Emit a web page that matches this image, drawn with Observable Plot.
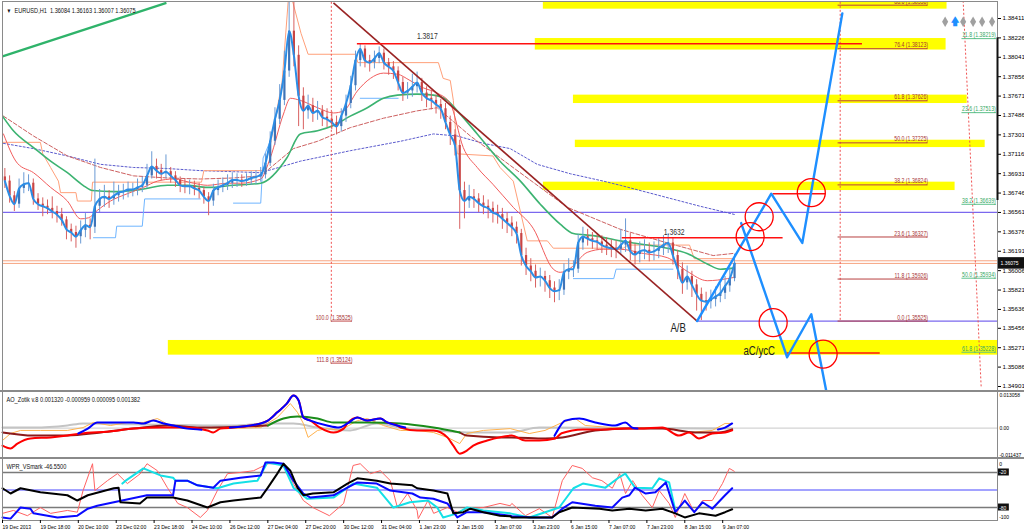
<!DOCTYPE html>
<html><head><meta charset="utf-8">
<script src="https://cdn.jsdelivr.net/npm/d3@7"></script>
<script src="https://cdn.jsdelivr.net/npm/@observablehq/plot@0.6"></script>
<style>
body{margin:0;background:#fff;}
#chart{position:relative;width:1024px;height:532px;overflow:hidden;background:#fff;}
#chart svg{position:absolute;left:0;overflow:visible;}
.sep{position:absolute;left:0;width:1024px;height:2px;background:#8a8a8a;}
</style></head><body><div id="chart"></div>
<script>
const FONT = "'Liberation Sans',Arial,sans-serif";

// ---------- 2-hour candles (x = hourly bar index 2j+1) ----------
const firstOpen = 1.3690;
const close = [
1.3686,1.3672,1.3664,1.3679,1.3683,1.3684,1.3669,1.3664,1.3662,1.3660,
1.3657,1.3654,1.3649,1.3640,1.3637,1.3633,1.3639,1.3644,1.3642,1.3662,
1.3669,1.3671,1.3669,1.3672,1.3675,1.3676,1.3678,1.3678,1.3680,1.3682,
1.3691,1.3700,1.3696,1.3693,1.3695,1.3691,1.3687,1.3682,1.3681,1.3681,
1.3679,1.3677,1.3671,1.3667,1.3677,1.3680,1.3682,1.3684,1.3687,1.3687,
1.3686,1.3687,1.3689,1.3690,1.3692,1.3703,1.3724,1.3745,1.3763,1.3791,
1.3829,1.3806,1.3767,1.3753,1.3758,1.3751,1.3753,1.3747,1.3745,1.3742,
1.3738,1.3748,1.3760,1.3777,1.3801,1.3812,1.3801,1.3799,1.3803,1.3808,
1.3799,1.3795,1.3791,1.3780,1.3770,1.3772,1.3776,1.3780,1.3770,1.3765,
1.3763,1.3759,1.3755,1.3742,1.3730,1.3720,1.3677,1.3667,1.3671,1.3669,
1.3665,1.3662,1.3660,1.3656,1.3654,1.3650,1.3646,1.3642,1.3636,1.3615,
1.3605,1.3600,1.3594,1.3595,1.3591,1.3584,1.3581,1.3582,1.3599,1.3602,
1.3602,1.3627,1.3633,1.3631,1.3629,1.3628,1.3625,1.3623,1.3622,1.3621,
1.3625,1.3629,1.3619,1.3616,1.3619,1.3620,1.3618,1.3619,1.3622,1.3625,
1.3627,1.3615,1.3602,1.3589,1.3595,1.3587,1.3578,1.3572,1.3571,1.3573,
1.3576,1.3579,1.3586,1.3593,1.36075];
const high = [
1.3698,1.3691,1.3676,1.3688,1.3694,1.3692,1.3688,1.3674,1.3670,1.3668,
1.3671,1.3662,1.3660,1.3652,1.3645,1.3643,1.3648,1.3655,1.3650,1.3707,
1.3678,1.3682,1.3677,1.3685,1.3682,1.3683,1.3685,1.3684,1.3688,1.3690,
1.3702,1.3714,1.3707,1.3702,1.3711,1.3699,1.3695,1.3690,1.3688,1.3687,
1.3686,1.3684,1.3680,1.3675,1.3683,1.3687,1.3689,1.3692,1.3694,1.3693,
1.3692,1.3693,1.3695,1.3696,1.3699,1.3712,1.3733,1.3756,1.3778,1.3810,
1.3893,1.3860,1.3815,1.3775,1.3768,1.3765,1.3762,1.3758,1.3755,1.3752,
1.3748,1.3755,1.3768,1.3786,1.3810,1.3817,1.3815,1.3806,1.3810,1.3814,
1.3812,1.3803,1.3800,1.3795,1.3785,1.3780,1.3788,1.3790,1.3784,1.3776,
1.3772,1.3768,1.3764,1.3760,1.3748,1.3735,1.3725,1.3685,1.3682,1.3678,
1.3674,1.3672,1.3668,1.3666,1.3663,1.3660,1.3656,1.3652,1.3647,1.3640,
1.3622,1.3612,1.3606,1.3603,1.3600,1.3596,1.3590,1.3592,1.3607,1.3612,
1.3610,1.3635,1.3642,1.3640,1.3637,1.3636,1.3634,1.3632,1.3630,1.3629,
1.3640,1.3650,1.3636,1.3626,1.3628,1.3630,1.3627,1.3628,1.3631,1.3634,
1.3636,1.3632,1.3620,1.3608,1.3605,1.3600,1.3592,1.3584,1.3580,1.3582,
1.3585,1.3588,1.3595,1.3603,1.36163];
const low = [
1.3679,1.3665,1.3657,1.3660,1.3674,1.3676,1.3663,1.3658,1.3652,1.3654,
1.3650,1.3646,1.3643,1.3630,1.3628,1.3622,1.3626,1.3632,1.3630,1.3636,
1.3656,1.3661,1.3660,1.3663,1.3666,1.3668,1.3670,1.3671,1.3672,1.3675,
1.3679,1.3688,1.3688,1.3686,1.3688,1.3684,1.3680,1.3675,1.3674,1.3673,
1.3672,1.3669,1.3664,1.3653,1.3662,1.3672,1.3675,1.3677,1.3679,1.3680,
1.3680,1.3681,1.3682,1.3683,1.3685,1.3688,1.3700,1.3720,1.3740,1.3758,
1.3785,1.3795,1.3738,1.3735,1.3745,1.3742,1.3744,1.3738,1.3737,1.3735,
1.3730,1.3733,1.3742,1.3755,1.3772,1.3795,1.3794,1.3790,1.3793,1.3798,
1.3792,1.3787,1.3783,1.3772,1.3762,1.3764,1.3766,1.3770,1.3762,1.3756,
1.3754,1.3750,1.3745,1.3735,1.3720,1.3710,1.3640,1.3650,1.3660,1.3660,
1.3656,1.3654,1.3650,1.3646,1.3645,1.3640,1.3636,1.3633,1.3626,1.3605,
1.3596,1.3590,1.3584,1.3585,1.3580,1.3574,1.3570,1.3572,1.3577,1.3592,
1.3594,1.3598,1.3620,1.3624,1.3621,1.3620,1.3617,1.3615,1.3613,1.3612,
1.3615,1.3618,1.3610,1.3606,1.3608,1.3611,1.3609,1.3610,1.3612,1.3615,
1.3617,1.3606,1.3592,1.3578,1.3582,1.3575,1.3562,1.3553,1.3562,1.3564,
1.3566,1.3570,1.3573,1.3580,1.3590];

// ---------- moving averages / bands: [bar index, price] ----------
const maRed = [[0.4,1.3731],[6.3,1.3703],[13.1,1.3694],[20.3,1.3680],[27.4,1.3667],[33,1.3650],[36.3,1.3651],[40,1.3658],[45.6,1.3667],[52.7,1.3674],[59.5,1.3680],[65.4,1.3686],[72.2,1.3688],[80.6,1.3684],[86.5,1.3682],[95,1.3684],[100.4,1.3684],[109,1.3688],[113,1.3708],[118.6,1.3750],[121.5,1.3765],[125.7,1.3763],[133,1.3756],[139.7,1.3751],[144,1.3753],[149.8,1.3772],[155.3,1.3784],[160.8,1.3789],[166.7,1.3788],[172,1.3782],[177.6,1.3775],[183.5,1.3770],[189,1.3760],[194.5,1.3718],[200.4,1.3699],[207,1.3683],[215.6,1.3661],[224,1.3641],[232.5,1.3602],[235.4,1.3599],[239.7,1.3603],[246.8,1.3618],[253.6,1.3621],[260.8,1.3621],[270.5,1.3617],[280.6,1.3613],[289,1.3600],[297.5,1.3591],[306,1.3593],[308.4,1.3594]];
const maGreen = [[0,1.3748],[4.6,1.3734],[13.1,1.3718],[20.3,1.3705],[27.4,1.3694],[34,1.3682],[38,1.3677],[47,1.3676],[58.2,1.3678],[69.6,1.3682],[78,1.3682],[86.5,1.3680],[97.5,1.3682],[109,1.3684],[120,1.3708],[125.7,1.3731],[133,1.3734],[139.7,1.3739],[146.8,1.3748],[154,1.3756],[160.8,1.3765],[166.7,1.3768],[175,1.3769],[181.9,1.3768],[187.8,1.3763],[192,1.3753],[200.4,1.3731],[210,1.3705],[218.6,1.3686],[227,1.3664],[235.4,1.3645],[241,1.3636],[249.4,1.3634],[260.8,1.3629],[266.2,1.3627],[280.6,1.3622],[289,1.3617],[297.5,1.3607],[303,1.3602],[308.4,1.3603]];
const maDashed = [[0.4,1.3748],[13.1,1.3729],[27.4,1.3710],[41.4,1.3699],[55.3,1.3691],[69.6,1.3689],[83.5,1.3688],[97.5,1.3689],[109,1.3691],[122.8,1.3717],[133,1.3724],[146.8,1.3737],[160.8,1.3746],[175,1.3753],[183.5,1.3756],[197.5,1.3729],[214.3,1.3701],[238.4,1.3661],[260.8,1.3640],[277.6,1.3629],[300,1.3615],[308.4,1.3617]];
const maDotted = [[0.4,1.3722],[13.1,1.3717],[27.4,1.3710],[41.4,1.3702],[55.3,1.3699],[69.6,1.3698],[83.5,1.3696],[97.5,1.3695],[109,1.3694],[125.7,1.3705],[146.8,1.3715],[168,1.3724],[181.9,1.3731],[192,1.3729],[203,1.3722],[214.3,1.3717],[225.7,1.3702],[239.7,1.3693],[253.6,1.3686],[260.8,1.3682],[294.5,1.3662],[309.3,1.3654]];
const salmonStep = [[0,1.3723],[16,1.3723],[17,1.3712],[20.3,1.3699],[23.6,1.3686],[24.5,1.3675],[31,1.3675],[31.6,1.3667],[37.5,1.3667],[38,1.3685],[84,1.3685],[85,1.3696],[110,1.3696],[113,1.3720],[118,1.3780],[121,1.3870],[126,1.3827],[129,1.3807],[149,1.3807],[150,1.3799],[184,1.3799],[186,1.3784],[189,1.3782],[190.3,1.3763],[192,1.3712],[207,1.3710],[210,1.3699],[215.6,1.3686],[221.5,1.3629],[230,1.3629],[232.5,1.3622],[262,1.3622],[264,1.3625],[290,1.3625],[292,1.3612],[309,1.3612]];
const lightBlueStep = [[38.4,1.3632,1],[47.7,1.3632,1],[48.2,1.3643,1],[59,1.3643,1],[60,1.3669,1],[83.5,1.3669,1],[97.5,1.3665,2],[109,1.3665,2],[110,1.3708,2],[113,1.3724,2],[117,1.3763,2],[119,1.3790,2],[151,1.3765,3],[167,1.3765,3],[241,1.3593,4],[258,1.3593,4],[259,1.3602,4],[283,1.3602,4]];

// ---------- drawings ----------
const yellowBands = [[228.3,398.7,1.3862,1.3850],[224.9,398.3,1.3822,1.3811],[241,407.2,1.3768,1.3760],[241.8,414.8,1.3725,1.3718],[228.3,402.1,1.3685,1.3677],[70,420,1.3534,1.3520]];
const purpleLines = [[0,420,1.36561],[293.2,420,1.35525]];
const priceLines = [1.36100,1.36075];
const greenTrend = [[0,1.3805,69.2,1.3856]];
const brownTrend = [[139.7,1.3856,293.2,1.35525]];
const dottedVerticals = [[138.8,1.3857,138.8,1.3557],[353.6,1.3857,353.6,1.35525],[405.5,1.3858,413.1,1.3490]];
const redFibLevels = ["88.6","76.4","61.8","50.0","38.2","23.6","11.8","0.0"];
const redFibPrices = [1.38538,1.38123,1.37626,1.37225,1.36824,1.36327,1.35926,1.35525];
const leftFibLevels = ["100.0","111.8"];
const leftFibPrices = [1.35525,1.35124];
const greenFibLevels = ["11.8","23.6","38.2","50.0","61.8"];
const greenFibPrices = [1.38219,1.37513,1.36639,1.35934,1.35228];
const redLines = [[149.8,363,1.3817],[261.6,329.5,1.3632],[325.3,347.7,1.3674],[331.2,370.5,1.3522]];
const redLineLabels = [[179.3,1.3824,"1.3817"],[283.5,1.3637,"1.3632"]];
const projUp = [[293.2,1.35525],[324.5,1.3674],[337.6,1.3627],[354.5,1.3846]];
const projDown = [[311.8,1.3646],[331.2,1.3518],[341.4,1.3559],[347.7,1.3486]];
const circles = [[319.4,1.3652],[315.6,1.3633],[341.4,1.3675],[325.3,1.3551],[346.4,1.3521]];
const waveLabels = [[285.2,1.3546,"A/B"],[319.4,1.3524,"aC/ycC"]];
const diamondX = [397.9,405.5,409.7,413.5,417.7];
const arrowX = [402.1];
const markerPrice = 1.3838;
const priceTicks = [1.38411,1.38226,1.38041,1.37856,1.37671,1.37486,1.37301,1.37116,1.36931,1.36746,1.36561,1.36376,1.36191,1.36006,1.35821,1.35636,1.35456,1.35271,1.35086,1.34901];
const axisBar = [1.38226,1.36675];
const lastPrice = 1.36075;
const header = "EURUSD,H1  1.36084 1.36163 1.36007 1.36075";

// ---------- AO panel: [bar index, value] ----------
const aoTitle = "AO_Zotik v.8 0.001320 -0.000959 0.000095 0.001382";
const aoTicks = [0.013058, 0, -0.011437];
const aoGray = [[0,0.0002],[13.1,0.0002],[27.4,0.0010],[34,0.0018],[55,0.0015],[97.5,0.0010],[112,0.0018],[122.8,0.0018],[133,0.0002],[146.8,-0.0009],[158,0.0018],[168,0.0002],[181.9,-0.0009],[196,-0.0017],[214.3,-0.0017],[226.6,0.0002],[299.6,-0.0002],[308,-0.0002]];
const aoOrange = [[0,-0.0048],[3.4,-0.0021],[7.6,-0.0009],[16,-0.0009],[27.4,-0.0009],[34,0.0002],[38.4,0.0022],[45.6,0.0010],[52.7,0.0022],[59.5,0.0022],[65.4,0.0037],[72.2,0.0002],[83.5,0.0002],[95,-0.0002],[109,0.0002],[116,0.0041],[121.5,0.0095],[124.5,0.0061],[127,0.0018],[129,-0.0036],[133,-0.0009],[137,-0.0002],[142.6,-0.0009],[149.8,0.0029],[154,0.0037],[160.8,0.0010],[168,-0.0009],[175,-0.0009],[181.9,-0.0017],[187.8,-0.0036],[193,-0.0060],[196,-0.0021],[203,-0.0009],[214.3,-0.0002],[222.4,-0.0021],[229,-0.0009],[236.3,0.0022],[241.8,0.0037],[246,0.0010],[257.4,0.0002],[264.6,-0.0002],[274.3,0.0002],[281.4,-0.0002],[289.9,-0.0017],[299.6,-0.0009],[305,0.0018],[308,0.0018]];
const aoSignalBrownA = [[0,-0.0017],[13.1,-0.0029],[27.4,-0.0029],[41.4,-0.0017],[55.3,-0.0002],[69.6,0.0010],[83.5,0.0002],[112,0.0010]];
const aoSignalGreen = [[112,0.0010],[118.6,0.0037],[124.5,0.0045],[133,0.0037],[139.7,0.0022],[154,0.0022],[168,0.0018],[181.9,0.0002],[193,-0.0017]];
const aoSignalBrownB = [[193,-0.0017],[196,-0.0029],[210,-0.0036],[215,-0.0036],[229,-0.0040],[236.3,-0.0036],[250.2,-0.0009],[264.6,-0.0002],[278.5,-0.0002],[292.4,-0.0017],[302.5,-0.0017],[308,-0.0005]];
const aoRed = [[0,-0.0068],[3.4,-0.0079],[6.3,-0.0060],[11.8,-0.0040],[20.3,-0.0036],[27.4,-0.0029],[33,-0.0021],[45,-0.0013],[55.3,-0.0002],[66.7,0.0002],[78,0.0002],[86.5,-0.0009],[89,-0.0017],[92,-0.0002],[97.5,0.0002],[109,0.0018],[112,0.0029],[116,0.0061],[120,0.0095],[122.8,0.0126],[125,0.0107],[127,0.0041],[130,0.0029],[134,0.0002],[139.7,-0.0017],[144,-0.0002],[145.6,0.0018],[149.8,0.0041],[154,0.0029],[159.5,0.0037],[162.4,0.0022],[166.7,0.0010],[168,0.0002],[175,-0.0009],[181.9,-0.0009],[187.8,-0.0036],[190.3,-0.0068],[193,-0.0099],[196,-0.0087],[198.7,-0.0068],[204.6,-0.0048],[215,-0.0029],[220.7,-0.0048],[226.6,-0.0048],[233.3,-0.0040],[236,-0.0020],[245,-0.0005],[255,-0.0005],[262,-0.0002],[268.8,-0.0002],[278.5,0.0002],[285.6,-0.0029],[289.9,-0.0017],[294,-0.0040],[299.6,-0.0021],[305,-0.0017],[308,-0.0009]];
const aoBlue = [[32,-0.0021,1],[36,-0.0002,1],[40,0.0022,1],[45.6,0.0022,1],[55.3,0.0022,1],[59.5,0.0018,1],[63.7,0.0029,1],[68,0.0018,1],[72.2,0.0010,1],[78,-0.0002,1],[84,-0.0006,1],
[96,0.0002,2],[109,0.0018,2],[112,0.0029,2],[116,0.0061,2],[120,0.0095,2],[122.8,0.0126,2],[125,0.0107,2],[127,0.0041,2],[130,0.0029,2],[137,0.0010,2],[142,0.0002,2],[145.6,0.0018,2],[149.8,0.0041,2],[154,0.0029,2],[159.5,0.0037,2],[162.4,0.0022,2],[166.7,0.0010,2],[170,0.0002,2],
[233,-0.0030,3],[235,0.0002,3],[237.5,0.0029,3],[243.5,0.0037,3],[250.2,0.0022,3],[258.6,0.0010,3],[262.9,0.0022,3],[265.8,0.0002,3],[268,-0.0002,3],
[302,-0.0005,4],[305,0.0002,4],[308,0.0018,4]];

// ---------- WPR panel: [bar index, value] ----------
const wprTitle = "WPR_VSmark -46.5500";
const wprLevels = [-20, -80];
const wprMid = [-50];
const wprRed = [[0,-90],[4.6,-85],[10.5,-94],[16,-80],[20.3,-90],[27.4,-85],[31.6,-88],[34,-51],[38,-5],[39,-51],[44.3,-34],[48.5,-22],[52.7,-39],[58.2,-22],[61,-5],[65.4,-17],[69.6,-46],[74,-73],[78,-80],[83.5,-97],[86.5,-85],[90.7,-51],[95,-22],[100.4,-20],[106,-17],[112,-5],[118.6,-5],[122.8,-39],[127,-68],[131,-80],[138,-94],[144,-73],[148,-8],[151,-5],[155.3,-22],[159.5,-17],[163.7,-34],[166.7,-80],[171,-56],[175,-85],[175.5,-99],[179.6,-68],[182,-90],[187.8,-80],[192,-88],[196,-82],[203,-80],[210,-73],[214.3,-77],[215,-73],[220.7,-94],[226.6,-82],[232,-97],[236.3,-34],[240.5,-8],[244.7,-13],[249,-29],[253,-34],[257.4,-47],[260.5,-22],[263,-56],[266,-34],[270,-59],[274.3,-80],[277.2,-51],[281.4,-73],[284,-97],[288,-56],[292,-88],[295.5,-68],[299.6,-68],[303.9,-39],[306.8,-13],[308.9,-18]];
const wprCyan = [[50.6,-39],[52,-34],[59.5,-13],[66.7,-25],[72,-29],[73,-34],[78,-34],[82.3,-42],[89,-46],[90.7,-47],[97.5,-39],[107.6,-34],[111.8,-3],[118.6,-8],[122.8,-46],[128.6,-65],[139.7,-63],[148,-39],[158,-46],[165,-80],[172,-71],[179.6,-68],[183.5,-80],[186,-97],[192,-90],[196,-80],[203,-85],[214.3,-90],[222.4,-97],[235,-80],[241,-47],[245,-39],[254.5,-46],[260,-29],[262.9,-22],[267,-46],[274.3,-47],[277.2,-30],[281.4,-37],[284,-85]];
const wprBlue = [[0,-97],[3.4,-99],[7.6,-80],[11.8,-82],[13.1,-90],[23.2,-97],[31.6,-94],[36,-82],[40,-77],[47,-71],[61,-59],[72,-59],[73,-34],[78,-34],[82.3,-42],[89,-46],[92,-34],[100.4,-29],[109,-25],[111,-3],[114.4,-3],[118.6,-5],[122.8,-34],[127,-56],[130,-63],[139.7,-59],[145.6,-46],[149.8,-37],[158,-39],[163.7,-51],[173,-56],[176.4,-63],[181.9,-65],[187.8,-73],[192,-97],[196,-88],[203,-88],[214.3,-94],[215,-95],[223.5,-97],[232,-97],[236.3,-82],[240.5,-71],[250.2,-77],[257.4,-80],[261.6,-63],[264.6,-59],[267,-46],[271.5,-56],[275.6,-54],[280,-37],[284,-88],[288,-68],[292,-88],[295.5,-71],[299.6,-82],[305,-59],[308,-47]];
const wprBlack = [[0,-47],[3.4,-56],[7.6,-47],[16,-54],[27.4,-59],[31.6,-68],[36,-59],[47,-47],[49,-46],[49.8,-71],[58,-73],[61,-63],[72,-63],[78,-68],[86.5,-80],[92,-71],[97.5,-68],[109,-63],[112,-46],[116,-22],[118.6,-5],[121.5,-17],[124.5,-46],[127,-59],[131,-56],[139.7,-54],[145.6,-39],[149.8,-30],[158,-34],[163.7,-39],[173,-42],[175,-47],[181.9,-51],[187.8,-56],[190.3,-90],[194.5,-88],[197.5,-82],[203,-88],[210,-94],[214.3,-95],[215,-97],[223.5,-97],[232,-97],[235,-88],[240.5,-80],[252,-82],[257.4,-85],[264.6,-82],[271.5,-85],[278.5,-82],[284,-90],[288,-97],[294,-90],[301,-94],[305,-88],[308,-83]];

// ---------- time axis ----------
const timeLabels = ["19 Dec 2013","19 Dec 18:00","20 Dec 10:00","23 Dec 02:00","23 Dec 18:00","24 Dec 10:00","26 Dec 12:00","27 Dec 04:00","27 Dec 20:00","30 Dec 12:00","31 Dec 04:00","1 Jan 23:00","2 Jan 15:00","3 Jan 07:00","3 Jan 23:00","6 Jan 15:00","7 Jan 07:00","7 Jan 23:00","8 Jan 15:00","9 Jan 07:00"];
const barsPerLabel = 16;

// ---------- build ----------
const candles = close.map((c, j) => ({i: 2 * j + 1, o: j ? close[j - 1] : firstOpen, c, h: high[j], l: low[j]}));
const X = {domain: [0, 420], range: [2, 997], axis: null};
const px = d => d[0], py = d => d[1];
const style = {fontFamily: FONT, fontSize: "7px", background: "transparent", overflow: "visible"};

const main = Plot.plot({
  width: 1024, height: 391, marginLeft: 2, marginRight: 27, marginTop: 1, marginBottom: 0,
  x: X, y: {domain: [1.34901, 1.38411], range: [386, 18], axis: null}, style,
  marks: [
    Plot.rect(yellowBands, {x1: d => d[0], x2: d => d[1], y1: d => d[2], y2: d => d[3], fill: "#ffff00", clip: true}),
    Plot.ruleY(purpleLines, {x1: d => d[0], x2: d => d[1], y: d => d[2], stroke: "#7b68ee", strokeWidth: 1.2}),
    Plot.ruleY(priceLines, {stroke: "#f7a480", strokeWidth: 1}),
    Plot.line(maDotted, {x: px, y: py, stroke: "#5a5acd", strokeWidth: 1, strokeDasharray: "2,2", clip: true}),
    Plot.line(maDashed, {x: px, y: py, stroke: "#cd6060", strokeWidth: 1, strokeDasharray: "4,2", clip: true}),
    Plot.line(salmonStep, {x: px, y: py, stroke: "#ffa07a", strokeWidth: 1, clip: true}),
    Plot.line(lightBlueStep, {x: px, y: py, z: d => d[2], stroke: "#6fb5ff", strokeWidth: 1, clip: true}),
    Plot.line(maGreen, {x: px, y: py, stroke: "#3cb371", strokeWidth: 1.6, curve: "monotone-x", clip: true}),
    Plot.line(maRed, {x: px, y: py, stroke: "#f25c5c", strokeWidth: 1, curve: "monotone-x", clip: true}),
    Plot.ruleX(candles, {x: "i", y1: "l", y2: "h", stroke: d => d.c >= d.o ? "#6a9ad4" : "#d86060", strokeWidth: 1, clip: true}),
    Plot.ruleX(candles, {x: "i", y1: "o", y2: "c", stroke: d => d.c >= d.o ? "#3f74b8" : "#c94545", strokeWidth: 2.2, clip: true}),
    Plot.line(candles, {x: "i", y: "c", stroke: "#2b8de6", strokeWidth: 2, curve: "monotone-x", clip: true}),
    Plot.link(greenTrend, {x1: d => d[0], y1: d => d[1], x2: d => d[2], y2: d => d[3], stroke: "#2fb36a", strokeWidth: 2.2, clip: true}),
    Plot.link(brownTrend, {x1: d => d[0], y1: d => d[1], x2: d => d[2], y2: d => d[3], stroke: "#9a2424", strokeWidth: 1.6, clip: true}),
    Plot.link(dottedVerticals, {x1: d => d[0], y1: d => d[1], x2: d => d[2], y2: d => d[3], stroke: "#f05050", strokeWidth: 1, strokeDasharray: "2,2", clip: true}),
    Plot.ruleY(redFibPrices, {x1: 352.7, x2: 390.7, stroke: "#b84040", strokeWidth: 1}),
    Plot.text(redFibPrices, {x: 390.7, y: d => d, text: (d, k) => `${redFibLevels[k]} (${d.toFixed(5)})`, textAnchor: "end", dy: -3.5, fill: "#a83434", fontSize: 6.5, clip: true}),
    Plot.ruleY(leftFibPrices, {x1: 138.8, x2: 147.7, stroke: "#c04848", strokeWidth: 1}),
    Plot.text(leftFibPrices, {x: 147.7, y: d => d, text: (d, k) => `${leftFibLevels[k]} (${d.toFixed(5)})`, textAnchor: "end", dy: -3.5, fill: "#a83434", fontSize: 6.5}),
    Plot.ruleY(greenFibPrices, {x1: 405, x2: 419.6, stroke: "#5cc08a", strokeWidth: 1}),
    Plot.text(greenFibPrices, {x: 419.3, y: d => d, text: (d, k) => `${greenFibLevels[k]} (${d.toFixed(5)})`, textAnchor: "end", dy: -3.5, fill: "#35a866", fontSize: 6.5}),
    Plot.ruleY(redLines, {x1: d => d[0], x2: d => d[1], y: d => d[2], stroke: "#ff1010", strokeWidth: 1.6}),
    Plot.text(redLineLabels, {x: d => d[0], y: d => d[1], text: d => d[2], fill: "#333", fontSize: 8.5, ariaLabel: "big"}),
    Plot.line(projUp, {x: px, y: py, stroke: "#1e8fff", strokeWidth: 2.4, clip: true}),
    Plot.line(projDown, {x: px, y: py, stroke: "#1e8fff", strokeWidth: 2.4, clip: true}),
    Plot.dot(circles, {x: px, y: py, r: 14, stroke: "#ff0000", strokeWidth: 1.3, fill: "none"}),
    Plot.text(waveLabels, {x: d => d[0], y: d => d[1], text: d => d[2], fill: "#222", fontSize: 12, ariaLabel: "big"}),
    Plot.dot(diamondX, {x: d => d, y: markerPrice, symbol: "diamond", r: 3.2, fill: "#a0a0a0"}),
    Plot.text(arrowX, {x: d => d, y: markerPrice, text: () => "🡅", fill: "#1e8fff", fontSize: 10, fontWeight: "bold", fontFamily: "'DejaVu Sans',sans-serif", ariaLabel: "big"}),
    Plot.text([header], {frameAnchor: "top-left", dx: 12, dy: 7, text: d => d, fill: "#111", fontSize: 7, ariaLabel: "hdr"}),
    Plot.text(["▼"], {frameAnchor: "top-left", dx: 4, dy: 7, text: d => d, fill: "#111", fontSize: 6, ariaLabel: "big"}),
    Plot.frame({stroke: "#8a8a8a"}),
    Plot.axisY({anchor: "right", ticks: priceTicks, tickSize: 3, tickPadding: 2, tickFormat: d => d.toFixed(5), fontSize: 6.2, ariaLabel: "axis-right"}),
    Plot.ruleX([420], {y1: axisBar[0], y2: axisBar[1], stroke: "#111", strokeWidth: 2}),
    Plot.rect([lastPrice], {x1: 420.4, x2: 431.5, y1: d => d - 0.00055, y2: d => d + 0.00055, fill: "#111"}),
    Plot.text([lastPrice], {x: 421.3, y: d => d, text: d => d.toFixed(5), textAnchor: "start", fill: "#fff", fontSize: 6.2, ariaLabel: "axis-right"})
  ]
});

const ao = Plot.plot({
  width: 1024, height: 67, marginLeft: 2, marginRight: 27, marginTop: 0, marginBottom: 0,
  x: X, y: {domain: [-0.01, 0.01], range: [62.4, 10.8], axis: null}, style,
  marks: [
    Plot.ruleY([0], {stroke: "#c8c8c8"}),
    Plot.line(aoGray, {x: px, y: py, stroke: "#c4c4c4", strokeWidth: 2, curve: "monotone-x"}),
    Plot.line(aoOrange, {x: px, y: py, stroke: "#ffb24d", strokeWidth: 1}),
    Plot.line(aoSignalBrownA, {x: px, y: py, stroke: "#8b1a1a", strokeWidth: 2, curve: "monotone-x"}),
    Plot.line(aoSignalBrownB, {x: px, y: py, stroke: "#8b1a1a", strokeWidth: 2, curve: "monotone-x"}),
    Plot.line(aoSignalGreen, {x: px, y: py, stroke: "#1a8c1a", strokeWidth: 2, curve: "monotone-x"}),
    Plot.line(aoRed, {x: px, y: py, stroke: "#ff0000", strokeWidth: 2, curve: "monotone-x"}),
    Plot.line(aoBlue, {x: px, y: py, z: d => d[2], stroke: "#0000ff", strokeWidth: 2, curve: "monotone-x"}),
    Plot.text([aoTitle], {frameAnchor: "top-left", dx: 4, dy: 6, text: d => d, fill: "#111", fontSize: 7}),
    Plot.text([aoTicks[0]], {x: 420.8, y: d => d, text: d => d.toFixed(6), textAnchor: "start", dy: 1, fontSize: 6.2, ariaLabel: "axis-right"}),
    Plot.text([aoTicks[1]], {x: 420.8, y: d => d, text: d => d.toFixed(2), textAnchor: "start", fontSize: 6.2, ariaLabel: "axis-right"}),
    Plot.text([aoTicks[2]], {x: 420.8, y: d => d, text: d => d.toFixed(6), textAnchor: "start", dy: -2.5, fontSize: 6.2, ariaLabel: "axis-right"}),
    Plot.frame({stroke: "#8a8a8a"})
  ]
});

const wpr = Plot.plot({
  width: 1024, height: 74, marginLeft: 2, marginRight: 27, marginTop: 0, marginBottom: 12,
  x: {...X, axis: null}, y: {domain: [-100, 0], range: [60.7, 2.3], axis: null}, style,
  marks: [
    Plot.ruleY(wprLevels, {stroke: "#7a7a7a", strokeWidth: 1.3}),
    Plot.ruleY(wprMid, {stroke: "#4646ff", strokeWidth: 1}),
    Plot.line(wprRed, {x: px, y: py, stroke: "#ff6262", strokeWidth: 1}),
    Plot.line(wprCyan, {x: px, y: py, stroke: "#14e0e6", strokeWidth: 2}),
    Plot.line(wprBlue, {x: px, y: py, stroke: "#0a0aff", strokeWidth: 2}),
    Plot.line(wprBlack, {x: px, y: py, stroke: "#000", strokeWidth: 2}),
    Plot.text([wprTitle], {frameAnchor: "top-left", dx: 4, dy: 6, text: d => d, fill: "#111", fontSize: 7}),
    Plot.rect(wprLevels, {x1: 420.4, x2: 425, y1: d => d - 6, y2: d => d + 6, fill: "#111"}),
    Plot.text(wprLevels, {x: 420.7, y: d => d, text: d => String(d), textAnchor: "start", fill: "#fff", fontSize: 6.2, ariaLabel: "axis-right"}),
    Plot.text([0], {x: 420.7, y: d => d, text: d => String(d), textAnchor: "start", dy: 3, fontSize: 6.2, ariaLabel: "axis-right"}),
    Plot.text([-100], {x: 420.7, y: d => d, text: d => String(d), textAnchor: "start", dy: -2.5, fontSize: 6.2, ariaLabel: "axis-right"}),
    Plot.frame({stroke: "#8a8a8a"}),
    Plot.axisX({ticks: timeLabels.map((_, k) => k * barsPerLabel), tickFormat: d => timeLabels[d / barsPerLabel], tickSize: 3, tickPadding: 1, textAnchor: "start", anchor: "bottom", fontSize: 6, label: null, ariaLabel: "time"})
  ]
});

const root = document.getElementById("chart");
main.style.top = "0px"; ao.style.top = "391px"; wpr.style.top = "458px";
root.append(main, ao, wpr);
for (const t of [390, 457]) { const s = document.createElement("div"); s.className = "sep"; s.style.top = t + "px"; root.append(s); }

// condense the small MT4-style labels (the terminal font is narrower than the installed sans)
for (const t of root.querySelectorAll("text")) {
  if (t.closest('[aria-label="big"]') || t.closest('[aria-label^="axis-right"]')) continue;
  const L = t.getComputedTextLength();
  if (!(L > 0)) continue;
  const k = t.closest('[aria-label="hdr"]') ? 0.88 : t.closest('[aria-label^="time"]') ? 0.84 : 0.8;
  t.setAttribute("textLength", (L * k).toFixed(1));
  t.setAttribute("lengthAdjust", "spacingAndGlyphs");
}
</script></body></html>
